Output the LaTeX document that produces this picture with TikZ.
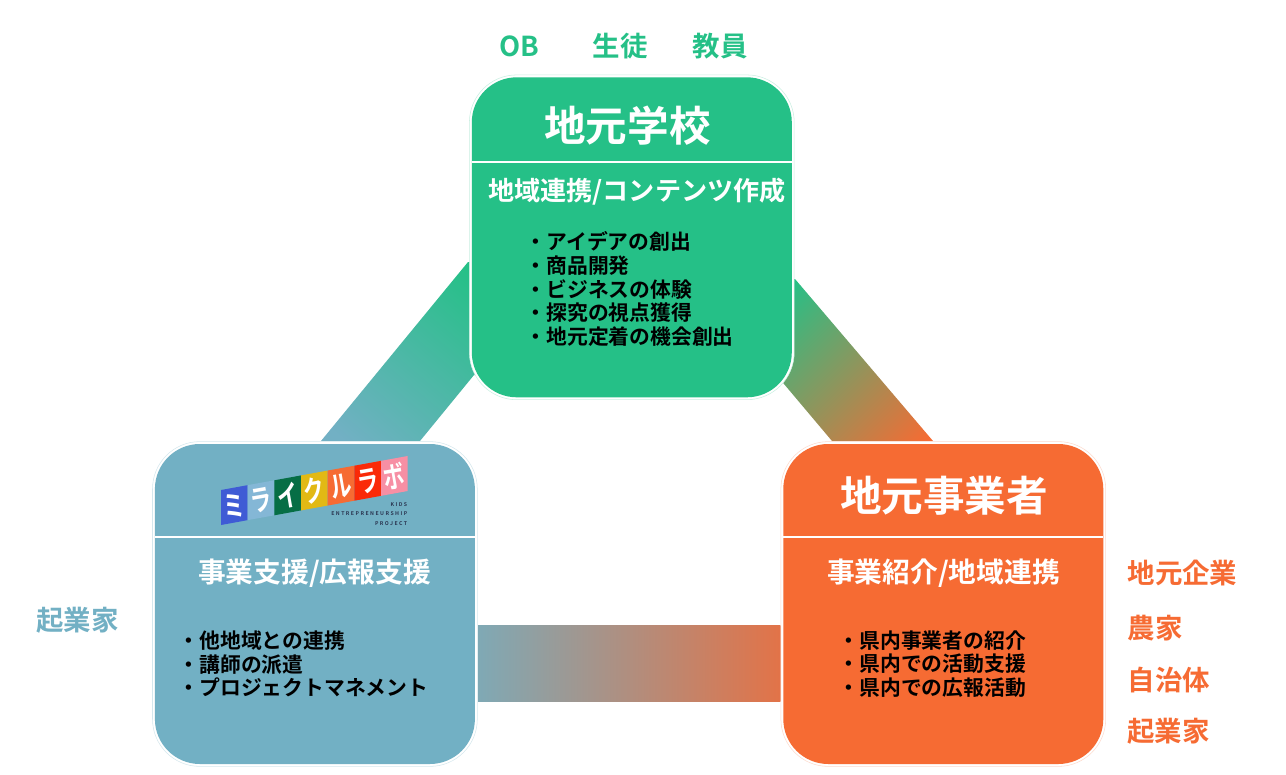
\documentclass[tikz,border=0pt]{standalone}
\usepackage{fontspec}
\setmainfont{Noto Sans CJK JP}[BoldFont={Noto Sans CJK JP Bold}]
\newfontfamily\logolat{Noto Sans CJK JP}[LetterSpace=28,BoldFont={Noto Sans CJK JP Bold}]
\definecolor{cgreen}{HTML}{25C087}
\definecolor{cblue}{HTML}{72B0C4}
\definecolor{corange}{HTML}{F66B33}
\definecolor{bandl}{HTML}{7FA9B5}
\definecolor{bandr}{HTML}{E27348}
\definecolor{navy}{HTML}{2A3550}
\tikzset{
 x=0.75pt,y=-0.75pt,
 panel/.style={rectangle,rounded corners=33.75pt,minimum width=240pt,minimum height=240pt,inner sep=0pt,outer sep=0pt,draw=none},
 halo/.style={rectangle,rounded corners=35.5pt,minimum width=243.6pt,minimum height=243.6pt,inner sep=0pt,outer sep=0pt,fill=white,draw=#1,line width=0.4pt},
 divider/.style={draw=white,line width=1.9pt},
 title/.style={text=white,font=\bfseries\fontsize{31.2}{33}\selectfont,inner sep=0pt},
 subhead/.style={text=white,font=\bfseries\fontsize{19.6}{22}\selectfont,inner sep=0pt},
 subheadwide/.style={text=white,font=\bfseries\fontsize{20.8}{23}\selectfont,inner sep=0pt},
 items/.style={text=black,font=\bfseries\fontsize{15.6}{17.85}\selectfont,align=left,anchor=west,inner sep=0pt},
 tag/.style={text=#1,font=\bfseries\fontsize{20.6}{22}\selectfont,inner sep=0pt},
 kana/.style={text=white,font=\bfseries\fontsize{21}{22}\selectfont,rotate=10,xscale=0.76,yscale=1.05,inner sep=0pt},
 small/.style={text=navy,font=\logolat\bfseries\fontsize{3.9}{5}\selectfont,anchor=east,inner sep=0pt},
}
\begin{document}
\begin{tikzpicture}
\useasboundingbox (0,0) rectangle (1286,775);
% bands
\begin{scope}
\clip (468,262) -- (321,441) -- (420,441) -- (474,375) -- (482,375) -- (482,262) -- cycle;
\shade[left color=cblue,right color=cgreen,shading angle=140,draw=none] (300,240) rectangle (500,460);
\end{scope}
\begin{scope}
\clip (795,279) -- (933,441) -- (832,441) -- (784,384) -- (775,375) -- (775,279) -- cycle;
\shade[left color=cgreen,right color=corange,shading angle=45,draw=none] (755,255) rectangle (965,465);
\end{scope}
\shade[left color=bandl,right color=bandr,draw=none]
 (478,625) rectangle (780.5,701.5);
% panels
\node[halo=cgreen!25] (schoolhalo) at (631.8,237.3) {};
\node[halo=cblue!30] (startuphalo) at (314.9,604) {};
\node[halo=corange!25] (bizhalo) at (943.3,604) {};
\node[panel,fill=cgreen] (school) at (631.8,237.3) {};
\node[panel,fill=cblue] (startup) at (314.9,604) {};
\node[panel,fill=corange] (biz) at (943.3,604) {};
\draw[divider] (school.west |- 0,162) -- (school.east |- 0,162);
\draw[divider] (startup.west |- 0,537) -- (startup.east |- 0,537);
\draw[divider] (biz.west |- 0,537) -- (biz.east |- 0,537);
% school text
\node[title] (schooltitle) at (627.5,125.5) {地元学校};
\node[subhead] (schoolsub) at (637,192) {地域連携/コンテンツ作成};
\node[items] (schoollist) at (525.5,289) {・アイデアの創出\\・商品開発\\・ビジネスの体験\\・探究の視点獲得\\・地元定着の機会創出};
% business text
\node[title] (biztitle) at (944,495.5) {地元事業者};
\node[subheadwide] (bizsub) at (943.5,573) {事業紹介/地域連携};
\node[items] (bizlist) at (838.5,664) {・県内事業者の紹介\\・県内での活動支援\\・県内での広報活動};
% startup text
\node[subheadwide] (startupsub) at (314.5,573) {事業支援/広報支援};
\node[items] (startuplist) at (178.5,664) {・他地域との連携\\・講師の派遣\\・プロジェクトマネメント};
% outer labels
\node[tag=cgreen] (ob) at (519,46) {OB};
\node[tag=cgreen] (student) at (620,46) {生徒};
\node[tag=cgreen] (teacher) at (720,46) {教員};
\node[tag=cblue] (founder) at (77.5,620.5) {起業家};
\node[tag=corange] (firm) at (1182.5,572.5) {地元企業};
\node[tag=corange] (farmer) at (1155,628) {農家};
\node[tag=corange] (gov) at (1169,680) {自治体};
\node[tag=corange] (founder2) at (1168.5,731) {起業家};
% logo
\foreach \i/\c in {0/3F5BD5,1/84B7D6,2/066E45,3/E2B914,4/F66B33,5/FA2A08,6/F78FA4}{
 \definecolor{stripc}{HTML}{\c}
 \fill[stripc] ({221+\i*26.67},{490-\i*4.86}) -- ({221+(\i+1)*26.67},{490-(\i+1)*4.86}) -- ({221+(\i+1)*26.67},{525-(\i+1)*4.86}) -- ({221+\i*26.67},{525-\i*4.86}) -- cycle;
}
\node[kana] (k1) at (234.3,505.5) {ミ};
\node[kana] (k2) at (261,500.6) {ラ};
\node[kana] (k3) at (287.7,495.8) {イ};
\node[kana] (k4) at (314.3,490.9) {ク};
\node[kana] (k5) at (341,486) {ル};
\node[kana] (k6) at (367.7,481.2) {ラ};
\node[kana] (k7) at (394.3,476.3) {ボ};
\node[small] (l1) at (407.5,504.5) {KIDS};
\node[small] (l2) at (407.5,514) {ENTREPRENEURSHIP};
\node[small] (l3) at (407.5,523.5) {PROJECT};
\end{tikzpicture}
\end{document}
